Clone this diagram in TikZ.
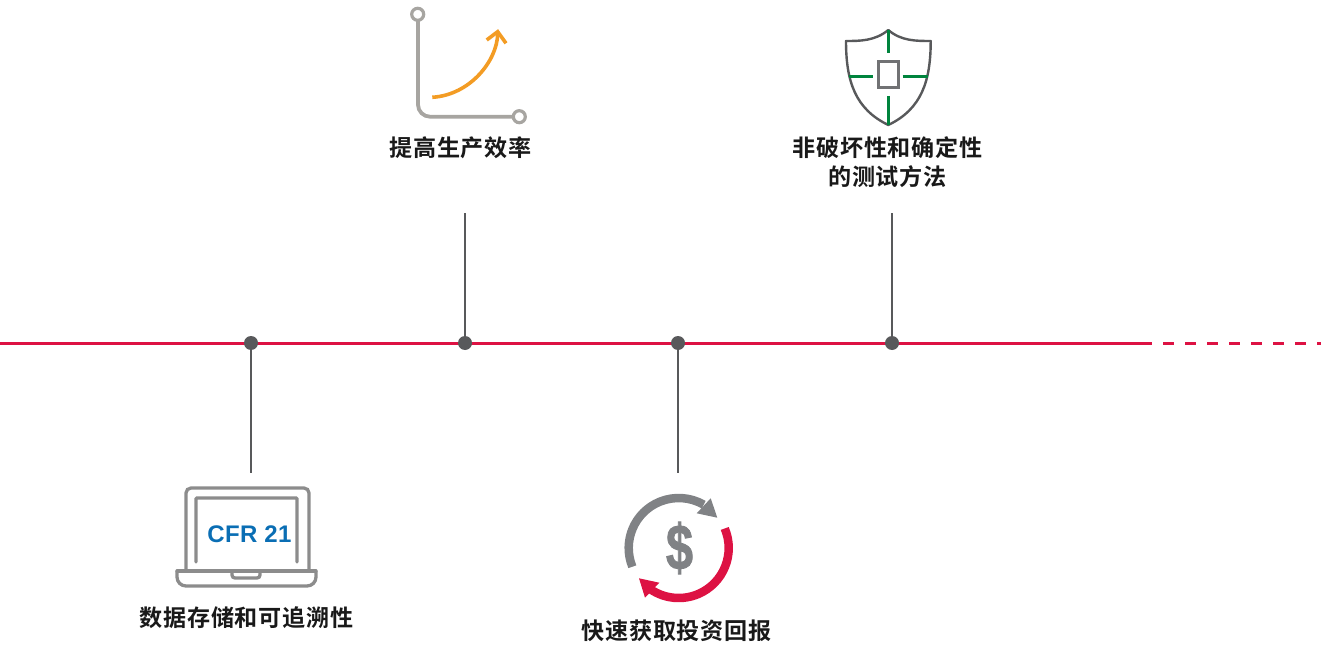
\documentclass[tikz,border=0pt]{standalone}
\usepackage{fontspec}
\setsansfont{Liberation Sans}
\newfontfamily\cjk{Noto Sans CJK SC}[BoldFont={Noto Sans CJK SC Bold}, LetterSpace=3]
\newfontfamily\cfrfont{Liberation Sans}[LetterSpace=1.5]
\newfontfamily\dollarfont{Liberation Sans}[BoldFeatures={FakeBold=1.5}]
\definecolor{crimson}{HTML}{DD1243}
\definecolor{slate}{HTML}{58595B}
\definecolor{steel}{HTML}{808285}
\definecolor{stone}{HTML}{A7A5A1}
\definecolor{laptopgray}{HTML}{8C8C8C}
\definecolor{amber}{HTML}{F39C24}
\definecolor{leaf}{HTML}{00843D}
\definecolor{cfrblue}{HTML}{0A6EB4}
\tikzset{
    dot/.style={circle, fill=slate, inner sep=0pt, minimum size=14pt},
    stem/.style={slate, line width=1.5pt},
    caption/.style={font=\cjk\bfseries\fontsize{23.1}{29}\selectfont, text=black!90, inner sep=0pt, align=center},
    laptopline/.style={laptopgray, line width=3.3pt, line cap=round},
    ring/.style={circle, draw=stone, fill=white, line width=3.2pt, inner sep=0pt, minimum size=12pt}
}
\begin{document}
\begin{tikzpicture}[x=1pt, y=1pt]
    \useasboundingbox (0,0) rectangle (1321,646);

    \coordinate (axisL) at (0,303);
    \coordinate (axisM) at (1141,303);
    \coordinate (axisR) at (1321,303);
    \draw[crimson, line width=3pt] (axisL) -- (axisM);
    \draw[crimson, line width=3pt, dash pattern=on 11pt off 11pt] (axisM) -- (axisR);

    \node[dot] (dotA) at (251,303) {};
    \node[dot] (dotB) at (465,303) {};
    \node[dot] (dotC) at (678,303) {};
    \node[dot] (dotD) at (892,303) {};

    \coordinate (stemA) at (251,173);
    \coordinate (stemB) at (465,433);
    \coordinate (stemC) at (678,173);
    \coordinate (stemD) at (892,433);
    \draw[stem] (dotA) -- (stemA);
    \draw[stem] (dotB) -- (stemB);
    \draw[stem] (dotC) -- (stemC);
    \draw[stem] (dotD) -- (stemD);

    % laptop
    \draw[laptopline, rounded corners=5pt] (186,76) -- (186,158) -- (309,158) -- (309,76);
    \draw[laptopline, rounded corners=1pt] (196,84) -- (196,148) -- (297,148) -- (297,84);
    \draw[laptopline, rounded corners=9pt] (177,75) -- (177,60) -- (316,60) -- (316,75);
    \draw[laptopline] (177,75) -- (316,75);
    \draw[laptopline, rounded corners=3pt] (232,75) -- (232,68) -- (260,68) -- (260,75);
    \node[inner sep=0pt, text=cfrblue, font=\cfrfont\bfseries\fontsize{24}{24}\selectfont] (cfr) at (249.5,112) {CFR 21};
    \node[caption] (capA) at (246.5,28) {数据存储和可追溯性};

    % graph
    \draw[stone, line width=3.8pt, rounded corners=12pt] (418,625) -- (418,529.3) -- (513,529.3);
    \node[ring] (ringA) at (417.7,631.7) {};
    \node[ring] (ringB) at (519.3,529.3) {};
    \draw[amber, line width=3.6pt] (432.3,548.7) .. controls (470,551) and (497,585) .. (497.7,612);
    \draw[amber, line width=3.6pt] (486.7,606) -- (497.7,614.3) -- (506,602.7);
    \node[caption] (capB) at (460.5,498) {提高生产效率};

    % cycle
    \draw[steel, line width=8.5pt] (678.7,98) ++(202:50) arc[start angle=202, end angle=60, radius=50];
    \fill[steel] (717.3,128.3) -- (710.7,147.7) -- (696.7,132.7) -- cycle;
    \draw[crimson, line width=8.5pt] (678.7,98) ++(23:50) arc[start angle=23, end angle=-124, radius=50];
    \fill[crimson] (639,67.7) -- (645,48.3) -- (659.3,63.3) -- cycle;
    \node[inner sep=0pt, text=steel, font=\dollarfont\bfseries\fontsize{64}{64}\selectfont] (dollar) at (679.5,98) {\scalebox{.76}[1]{\$}};
    \node[caption] (capC) at (676.5,15) {快速获取投资回报};

    % shield
    \draw[slate, line width=2.4pt, line join=round] (888.3,616) .. controls (875,605) and (860,605) .. (846,605)
        .. controls (846,565) and (855,537) .. (888.3,521)
        .. controls (921.6,537) and (930.7,565) .. (930.7,605)
        .. controls (916,605) and (901,605) .. cycle;
    \draw[leaf, line width=2.4pt] (888.3,616) -- (888.3,592.7);
    \draw[leaf, line width=2.4pt] (888.3,550) -- (888.3,521);
    \draw[leaf, line width=2.4pt] (849,569.3) -- (873.3,569.3);
    \draw[leaf, line width=2.4pt] (902.7,569.3) -- (927.7,569.3);
    \draw[slate!85, line width=2.5pt] (878.3,558.3) rectangle (898.3,584.3);
    \node[caption] (capD) at (887.5,483.5) {非破坏性和确定性\\的测试方法};
\end{tikzpicture}
\end{document}
